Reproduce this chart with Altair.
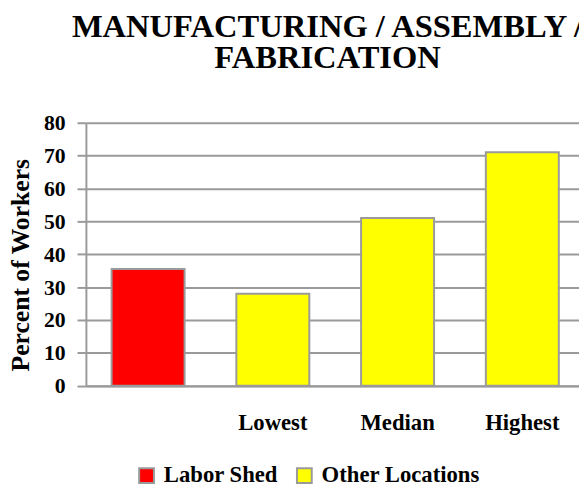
import altair as alt
import pandas as pd

categories = ["Labor Shed", "Lowest", "Median", "Highest"]
values = [35.5, 28, 51, 71]
series = ["Labor Shed", "Other Locations", "Other Locations", "Other Locations"]
y_ticks = [0, 10, 20, 30, 40, 50, 60, 70, 80]

df = pd.DataFrame({"category": categories, "value": values, "series": series})

FONT = "Liberation Serif"
GRAY = "#9a9a9a"

chart = alt.Chart(df).mark_bar(stroke=GRAY, strokeWidth=2).encode(
    x=alt.X(
        "category:N",
        sort=categories,
        scale=alt.Scale(paddingInner=0.415, paddingOuter=0.184, align=0.56),
        axis=alt.Axis(
            title=None,
            labelAngle=0,
            labelExpr="datum.value == 'Labor Shed' ? '' : datum.value",
            labelFont=FONT,
            labelFontSize=23,
            labelFontWeight="bold",
            labelColor="black",
            labelPadding=26,
            ticks=False,
            domainColor=GRAY,
            domainWidth=2,
            grid=False,
        ),
    ),
    y=alt.Y(
        "value:Q",
        scale=alt.Scale(domain=[0, 80], nice=False),
        axis=alt.Axis(
            title="Percent of Workers",
            values=y_ticks,
            titleFont=FONT,
            titleFontSize=26,
            titleFontWeight="bold",
            titleColor="black",
            titleX=-53,
            titleY=144,
            labelFont=FONT,
            labelFontSize=22,
            labelFontWeight="bold",
            labelColor="black",
            labelPadding=12,
            tickSize=9,
            tickColor=GRAY,
            tickWidth=2,
            domainColor=GRAY,
            domainWidth=2,
            grid=True,
            gridColor=GRAY,
            gridWidth=2,
        ),
    ),
    color=alt.Color(
        "series:N",
        scale=alt.Scale(domain=["Labor Shed", "Other Locations"], range=["#FF0000", "#FFFF00"]),
        legend=alt.Legend(
            title=None,
            orient="none",
            direction="horizontal",
            legendX=50,
            legendY=346,
            symbolType="square",
            symbolSize=225,
            symbolStrokeColor=GRAY,
            symbolStrokeWidth=2,
            symbolOpacity=1,
            labelFont=FONT,
            labelFontSize=23,
            labelFontWeight="bold",
            labelColor="black",
            labelOffset=6,
            labelLimit=400,
            columnPadding=15,
            padding=0,
        ),
    ),
).properties(
    width=500,
    height=266.7,
    autosize=alt.AutoSizeParams(type="none"),
    padding={"left": 79, "top": 113, "right": 0, "bottom": 100},
    title=alt.TitleParams(
        text=["MANUFACTURING / ASSEMBLY /", "FABRICATION"],
        font=FONT,
        fontSize=33,
        fontWeight="bold",
        color="black",
        anchor="middle",
        lineHeight=31,
        offset=38,
        dx=-5,
    ),
).configure(
    background="white", font=FONT
).configure_view(stroke=None).configure_axis(
    labelFont=FONT, titleFont=FONT
).configure_legend(labelFont=FONT)

chart.save("out.html", embed_options={"renderer": "svg", "actions": False})
